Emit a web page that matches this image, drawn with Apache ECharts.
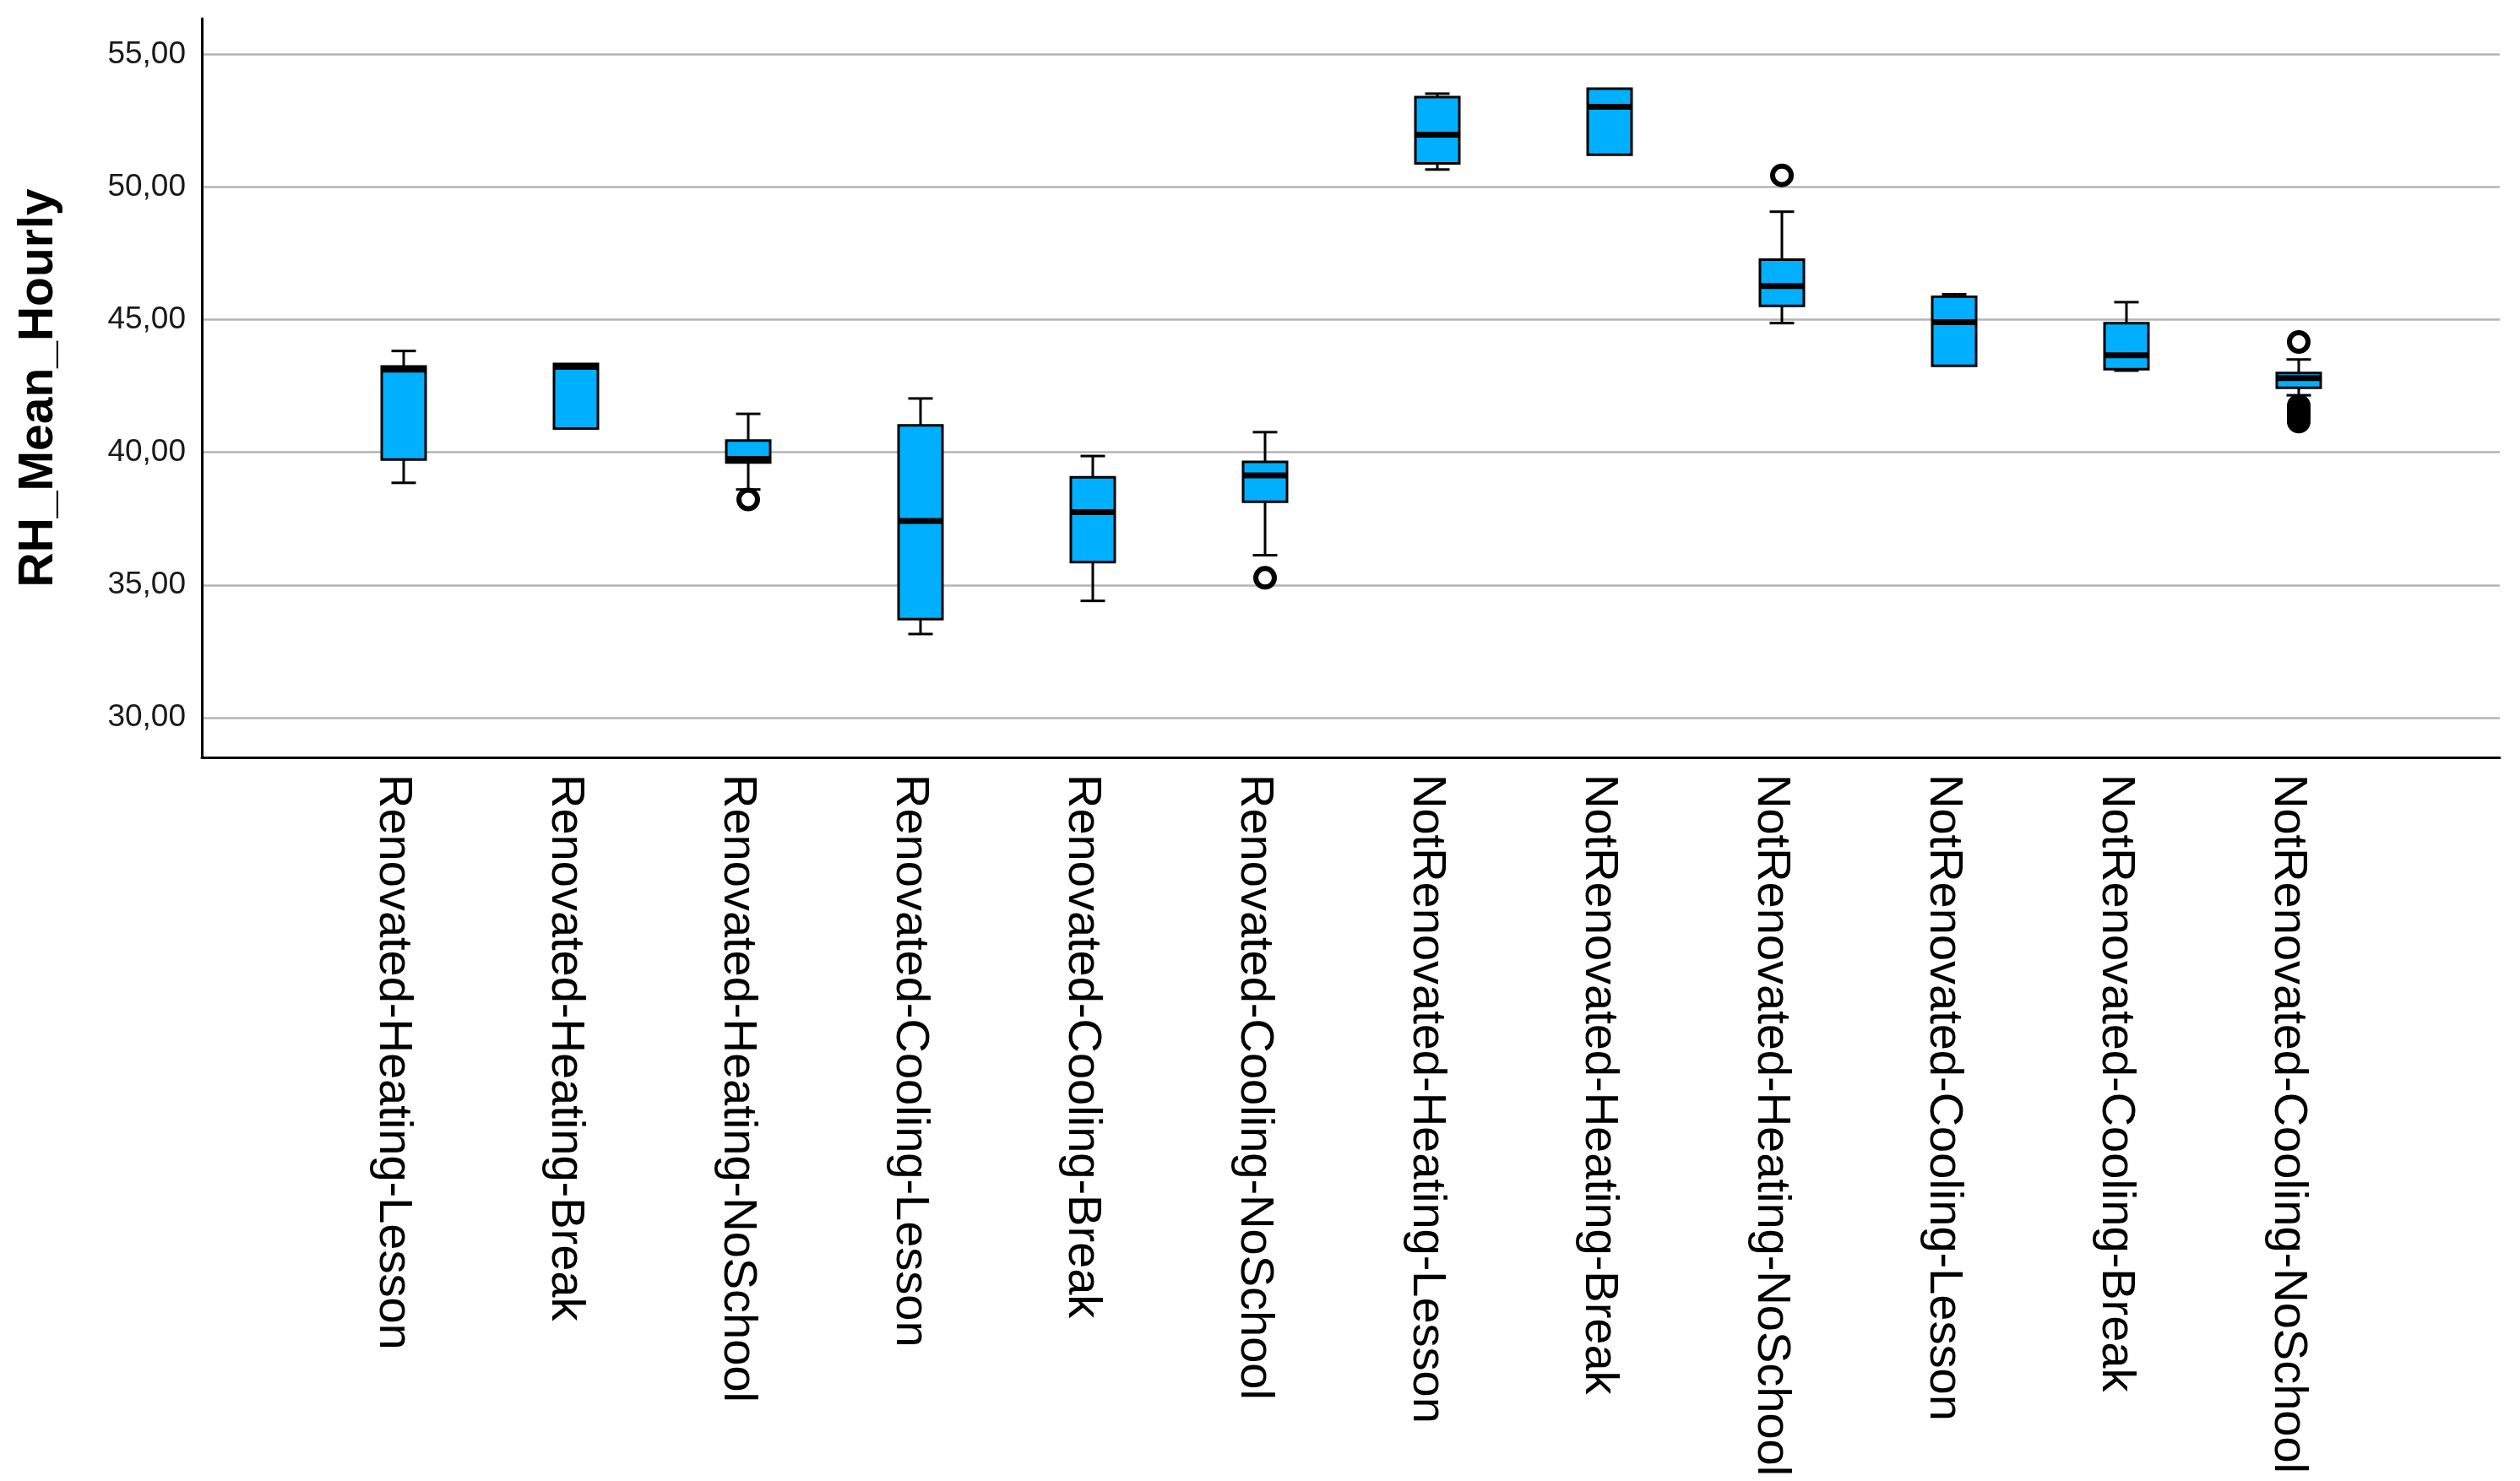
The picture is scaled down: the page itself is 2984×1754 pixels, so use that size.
<!DOCTYPE html>
<html>
<head>
<meta charset="utf-8">
<script src="https://cdn.jsdelivr.net/npm/echarts@6/dist/echarts.min.js"></script>
<style>
html,body{margin:0;padding:0;background:#fff;}
#chart{width:2984px;height:1754px;}
</style>
</head>
<body>
<div id="chart"></div>
<script>
const categories = [
  'Renovated-Heating-Lesson', 'Renovated-Heating-Break', 'Renovated-Heating-NoSchool',
  'Renovated-Cooling-Lesson', 'Renovated-Cooling-Break', 'Renovated-Cooling-NoSchool',
  'NotRenovated-Heating-Lesson', 'NotRenovated-Heating-Break', 'NotRenovated-Heating-NoSchool',
  'NotRenovated-Cooling-Lesson', 'NotRenovated-Cooling-Break', 'NotRenovated-Cooling-NoSchool'
];
const whiskerLow  = [38.85, 40.90, 38.60, 33.15, 34.40, 36.12, 50.66, 51.22, 44.87, 43.26, 43.08, 42.15];
const q1Values    = [39.73, 40.90, 39.62, 33.71, 35.86, 38.14, 50.89, 51.22, 45.52, 43.26, 43.13, 42.43];
const medianValues= [43.12, 43.22, 39.75, 37.41, 37.75, 39.13, 51.97, 53.02, 46.27, 44.91, 43.66, 42.80];
const q3Values    = [43.24, 43.33, 40.44, 41.02, 39.06, 39.64, 53.39, 53.71, 47.26, 45.86, 44.87, 42.99];
const whiskerHigh = [43.82, 43.33, 41.45, 42.03, 39.86, 40.76, 53.52, 53.71, 49.07, 45.96, 45.66, 43.50];
const outlierCategory = [2, 5, 8, 11, 11, 11, 11, 11, 11, 11, 11];
const outlierValue    = [38.22, 35.27, 50.44, 44.16, 41.75, 41.65, 41.55, 41.45, 41.35, 41.25, 41.16];
const yTickValues = [30, 35, 40, 45, 50, 55];
const yAxisTitle = 'RH_Mean_Hourly';

const FONT = "'Liberation Sans', Arial, sans-serif";
const BOX_FILL = '#00B0FF';
const BOX_W = 52;
const CAP_W = 29;

const boxData = categories.map((c, i) => [i, whiskerLow[i], q1Values[i], medianValues[i], q3Values[i], whiskerHigh[i]]);
const outlierData = outlierCategory.map((c, i) => [c, outlierValue[i]]);

function renderBox(params, api) {
  const x = api.value(0);
  const lo = api.coord([x, api.value(1)]);
  const q1 = api.coord([x, api.value(2)]);
  const md = api.coord([x, api.value(3)]);
  const q3 = api.coord([x, api.value(4)]);
  const hi = api.coord([x, api.value(5)]);
  const cx = lo[0];
  const lineStyle = { stroke: '#000', lineWidth: 3 };
  const children = [];
  if (hi[1] < q3[1] - 0.5) {
    children.push({ type: 'line', shape: { x1: cx, y1: hi[1], x2: cx, y2: q3[1] }, style: lineStyle });
    children.push({ type: 'line', shape: { x1: cx - CAP_W / 2, y1: hi[1], x2: cx + CAP_W / 2, y2: hi[1] }, style: lineStyle });
  }
  if (lo[1] > q1[1] + 0.5) {
    children.push({ type: 'line', shape: { x1: cx, y1: q1[1], x2: cx, y2: lo[1] }, style: lineStyle });
    children.push({ type: 'line', shape: { x1: cx - CAP_W / 2, y1: lo[1], x2: cx + CAP_W / 2, y2: lo[1] }, style: lineStyle });
  }
  children.push({
    type: 'rect',
    shape: { x: cx - BOX_W / 2, y: q3[1], width: BOX_W, height: q1[1] - q3[1] },
    style: { fill: BOX_FILL, stroke: '#000', lineWidth: 3 }
  });
  children.push({
    type: 'line',
    shape: { x1: cx - BOX_W / 2, y1: md[1], x2: cx + BOX_W / 2, y2: md[1] },
    style: { stroke: '#000', lineWidth: 7 }
  });
  return { type: 'group', children: children };
}

const chart = echarts.init(document.getElementById('chart'), null, { renderer: 'canvas' });
chart.setOption({
  animation: false,
  backgroundColor: '#fff',
  grid: [
    { left: 239, right: 24, top: 22, bottom: 857 },
    { left: 376, right: 160, top: 22, bottom: 857 },
    { left: 363, right: 173, top: 22, bottom: 857 }
  ],
  xAxis: [
    {
      gridIndex: 0, type: 'value', min: 0, max: 1,
      axisLine: { show: true, onZero: false, lineStyle: { color: '#000', width: 3 } },
      axisTick: { show: false }, axisLabel: { show: false }, splitLine: { show: false }
    },
    {
      gridIndex: 1, type: 'category', data: categories, boundaryGap: true,
      axisLine: { show: false }, axisTick: { show: false }, splitLine: { show: false },
      axisLabel: { show: false }
    },
    {
      gridIndex: 2, type: 'category', data: categories, boundaryGap: true,
      axisLine: { show: false }, axisTick: { show: false }, splitLine: { show: false },
      axisLabel: { interval: 0, rotate: -90, margin: 20, fontSize: 56, color: '#000', fontFamily: FONT }
    }
  ],
  yAxis: [
    {
      gridIndex: 0, type: 'value', min: 28.5, max: 56.35, minInterval: 5, maxInterval: 5,
      axisLine: { show: true, onZero: false, lineStyle: { color: '#000', width: 3 } },
      axisTick: { show: false },
      axisLabel: {
        margin: 19, fontSize: 37, color: '#1a1a1a', fontFamily: FONT,
        formatter: function (v) {
          const t = yTickValues.find(function (k) { return Math.abs(k - v) < 1e-6; });
          return t === undefined ? '' : t.toFixed(2).replace('.', ',');
        }
      },
      splitLine: { show: true, showMinLine: false, showMaxLine: false, lineStyle: { color: '#b4b4b4', width: 2.5 } },
      name: yAxisTitle, nameLocation: 'middle', nameGap: 164,
      nameTextStyle: { fontSize: 57, fontWeight: 'bold', color: '#000', fontFamily: FONT }
    },
    { gridIndex: 1, type: 'value', min: 28.5, max: 56.35, show: false },
    { gridIndex: 2, type: 'value', min: 28.5, max: 56.35, show: false }
  ],
  series: [
    {
      type: 'custom', xAxisIndex: 1, yAxisIndex: 1,
      renderItem: renderBox,
      encode: { x: 0, y: [1, 2, 3, 4, 5] },
      data: boxData, z: 3
    },
    {
      type: 'scatter', xAxisIndex: 1, yAxisIndex: 1,
      symbol: 'circle', symbolSize: 22,
      itemStyle: { color: 'rgba(0,0,0,0)', borderColor: '#000', borderWidth: 6, opacity: 1 },
      data: outlierData, z: 4
    }
  ]
});
</script>
</body>
</html>
